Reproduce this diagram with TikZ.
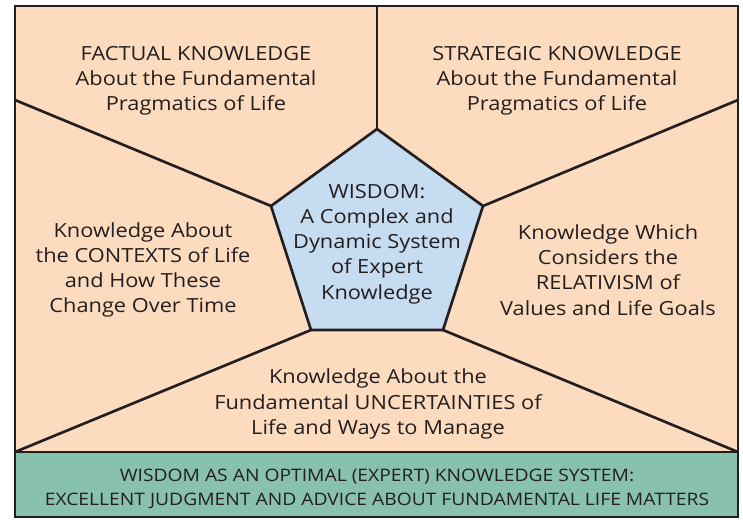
\documentclass[tikz,border=0pt]{standalone}
\usepackage{fontspec}
\setmainfont{Open Sans}[FakeStretch=1.12]
\definecolor{peach}{HTML}{FDDBBF}
\definecolor{skyblue}{HTML}{C6DCF1}
\definecolor{sage}{HTML}{88C1AE}
\definecolor{ink}{HTML}{231F20}
\begin{document}
\begin{tikzpicture}[x=0.75pt,y=-0.75pt,
  edge/.style={draw=ink,line width=2pt},
  label/.style={inner sep=0pt,align=center,text=ink,font=\fontsize{14.6}{18.9}\selectfont},
  footer/.style={inner sep=0pt,align=center,text=ink,font=\fontsize{12.9}{18}\selectfont}]
\useasboundingbox (0,0) rectangle (743,519);
% frame corners
\coordinate (tl) at (15,6);
\coordinate (tr) at (738,6);
\coordinate (bl) at (15,517);
\coordinate (br) at (738,517);
\coordinate (ml) at (15,452);
\coordinate (mr) at (738,452);
% pentagon vertices
\coordinate (pt) at (377,129);
\coordinate (pl) at (271,206);
\coordinate (pr) at (483,206);
\coordinate (pbl) at (311,330);
\coordinate (pbr) at (443,330);
% border points where the dividers end
\coordinate (et) at (377,6);
\coordinate (el) at (15,100);
\coordinate (er) at (738,100);
\coordinate (ebl) at (15,452);
\coordinate (ebr) at (738,452);
% backgrounds
\fill[peach] (tl) rectangle (mr);
\fill[sage] (ml) rectangle (br);
\filldraw[fill=skyblue,edge,line join=miter] (pt) -- (pr) -- (pbr) -- (pbl) -- (pl) -- cycle;
% dividers
\draw[edge] (pt) -- (et);
\draw[edge] (pl) -- (el);
\draw[edge] (pr) -- (er);
\draw[edge] (pbl) -- (ebl);
\draw[edge] (pbr) -- (ebr);
\draw[edge] (ml) -- (mr);
\draw[edge,line width=2.2pt] (tl) rectangle (br);
% texts
\node[label] (factual) at (196,81) {FACTUAL KNOWLEDGE\\About the Fundamental\\Pragmatics of Life};
\node[label] (strategic) at (557,81) {STRATEGIC KNOWLEDGE\\About the Fundamental\\Pragmatics of Life};
\node[label] (contexts) at (143,270) {Knowledge About\\the CONTEXTS of Life\\and How These\\Change Over Time};
\node[label] (relativism) at (608,270) {Knowledge Which\\Considers the\\RELATIVISM of\\Values and Life Goals};
\node[label] (wisdom) at (377,244) {WISDOM:\\A Complex and\\Dynamic System\\of Expert\\Knowledge};
\node[label] (uncert) at (378,404) {Knowledge About the\\Fundamental UNCERTAINTIES of\\Life and Ways to Manage};
\node[footer] (optimal) at (377,489) {WISDOM AS AN OPTIMAL (EXPERT) KNOWLEDGE SYSTEM:\\EXCELLENT JUDGMENT AND ADVICE ABOUT FUNDAMENTAL LIFE MATTERS};
\end{tikzpicture}
\end{document}
